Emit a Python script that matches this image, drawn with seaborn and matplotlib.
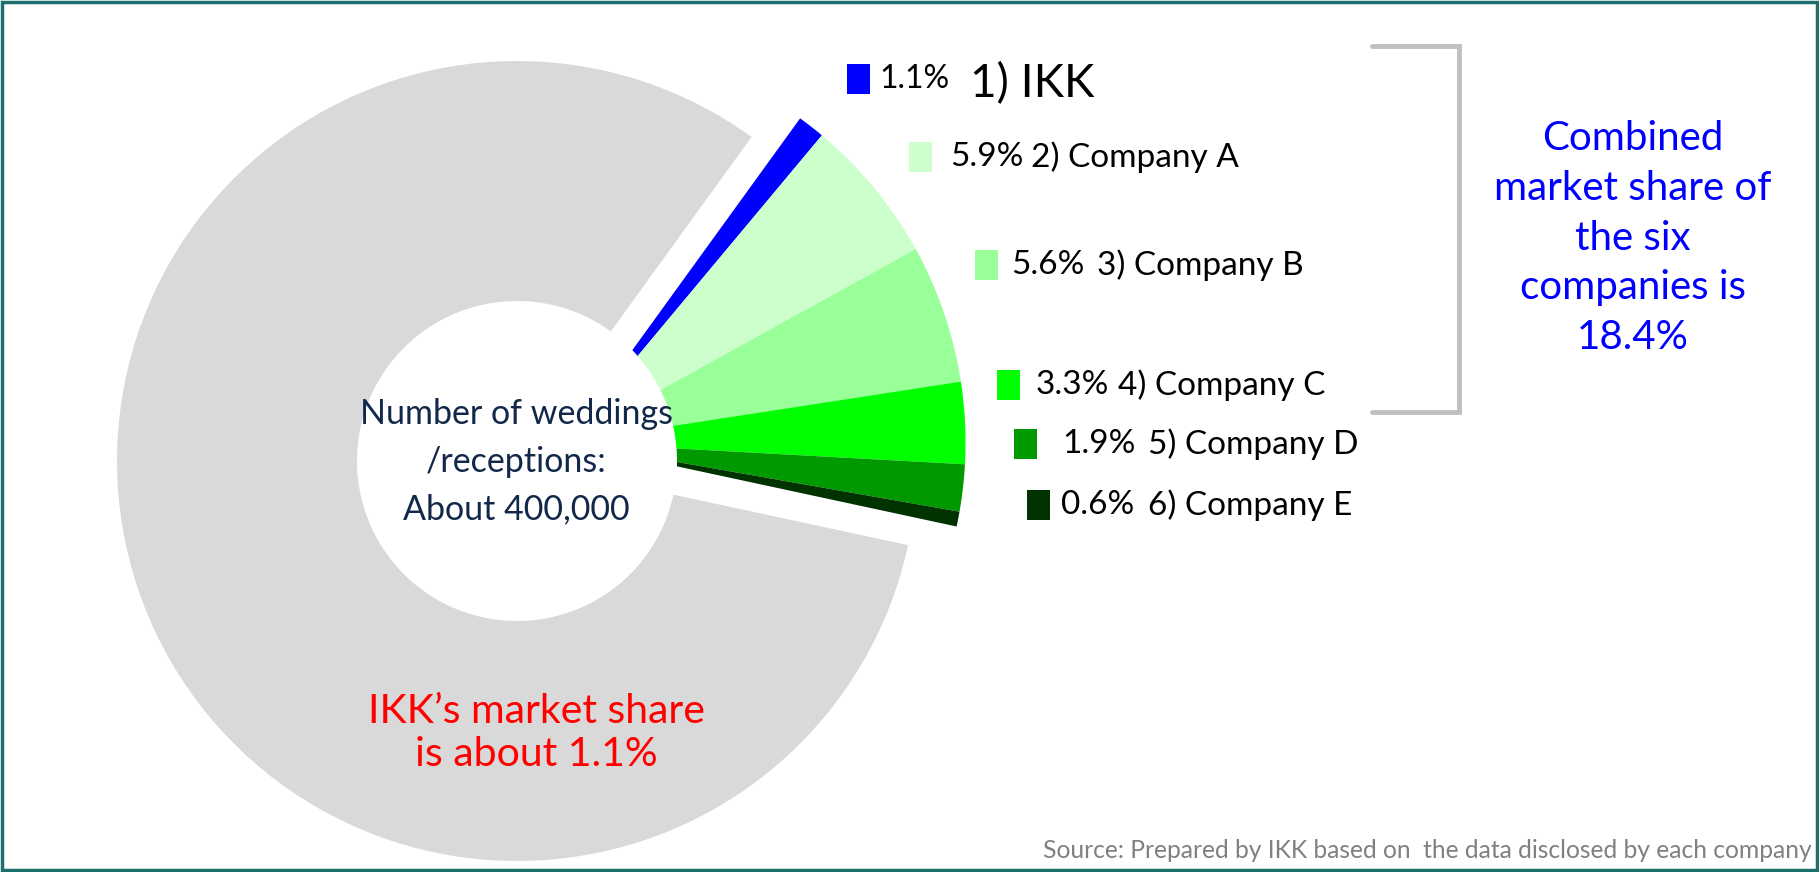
import matplotlib
matplotlib.use("Agg")
import matplotlib.pyplot as plt
from matplotlib.patches import Circle, Rectangle
import seaborn as sns
import math

# market share data (%)
companies = ["1) IKK", "2) Company A", "3) Company B", "4) Company C", "5) Company D", "6) Company E"]
shares = [1.1, 5.9, 5.6, 3.3, 1.9, 0.6]
others = 100 - sum(shares)
share_labels = ["1.1%", "5.9%", "5.6%", "3.3%", "1.9%", "0.6%"]
combined_label = "18.4%"

company_colors = ["#0000FF", "#CCFFCC", "#99FF99", "#00FF00", "#009900", "#003300"]
other_color = "#D9D9D9"

sns.set_theme(style="white")
plt.rcParams["font.family"] = ["Lato", "DejaVu Sans"]

W, H = 1819, 872
fig = plt.figure(figsize=(W / 100, H / 100), dpi=100)
ax = fig.add_axes([0, 0, 1, 1])

def py(y):
    # pixel row from the top -> data y
    return H - y

cx, cy, R = 517, py(461), 400
start = 90 - 35.9
values = shares + [others]

# grey remainder, drawn at the pie centre
ax.pie(values, colors=["none"] * len(shares) + [other_color], startangle=start,
       counterclock=False, radius=R, center=(cx, cy), frame=True,
       wedgeprops=dict(linewidth=0))

# the six companies pulled out together along their common bisector
mid = math.radians(start - sum(shares) / 100 * 360 / 2)
shift = 52
ax.pie(values, colors=company_colors + ["none"], startangle=start,
       counterclock=False, radius=R,
       center=(cx + shift * math.cos(mid), cy + shift * math.sin(mid)), frame=True,
       wedgeprops=dict(linewidth=0))

ax.add_patch(Circle((cx, cy), 160, facecolor="white", edgecolor="none", zorder=5))

ax.set_xlim(0, W)
ax.set_ylim(0, H)
ax.set_aspect("equal")
ax.axis("off")

# centre and red notes
ax.text(516, py(462), "Number of weddings\n/receptions:\nAbout 400,000", ha="center", va="center",
        fontsize=24.5, color="#12284A", linespacing=1.6, zorder=6)
ax.text(536, py(733), "IKK\u2019s market share\nis about 1.1%", ha="center", va="center",
        fontsize=29.5, color="#FF0000", linespacing=1.2, zorder=6)

# legend-like labels next to the wedges
sq_pos = [(847, 64), (909, 142), (975, 250), (997, 370), (1014, 429), (1027, 490)]
pct_x = [879, 950, 1011, 1036, 1062, 1061]
name_x = [970, 1031, 1097, 1118, 1148, 1148]
for i in range(len(companies)):
    sx, sy = sq_pos[i]
    ax.add_patch(Rectangle((sx, py(sy + 30)), 23, 30, facecolor=company_colors[i], edgecolor="none"))
    yc = py(sy + 15)
    ax.text(pct_x[i], yc, share_labels[i], ha="left", va="center",
            fontsize=23 if i == 0 else 24, color="black")
    ax.text(name_x[i], yc - (5 if i == 0 else 0), companies[i], ha="left", va="center",
            fontsize=33 if i == 0 else 24, color="black")

# bracket and combined share
ax.plot([1372, 1459, 1459, 1372], [py(46), py(46), py(412), py(412)],
        color="#BFBFBF", linewidth=3.5, solid_joinstyle="miter")
ax.text(1633, py(238), "Combined\nmarket share of\nthe six\ncompanies is\n" + combined_label,
        ha="center", va="center", fontsize=29, color="#0000FF", linespacing=1.42)

ax.text(1812, py(850), "Source: Prepared by IKK based on  the data disclosed by each company",
        ha="right", va="center", fontsize=17.7, color="#808080")

fig.patches.append(Rectangle((0.001, 0.002), 0.998, 0.996, transform=fig.transFigure,
                             fill=False, edgecolor="#1E6E6E", linewidth=2.5))

fig.savefig("out.png", dpi=100)
